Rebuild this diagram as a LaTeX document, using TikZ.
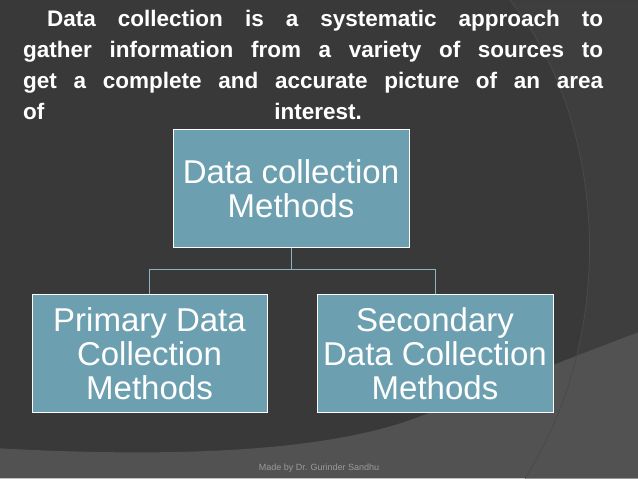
\documentclass[tikz,border=0pt]{standalone}
\usepackage{fontspec}
\setmainfont{Liberation Sans}
\definecolor{bgdark}{HTML}{393939}
\definecolor{bgarc}{HTML}{3E3E3E}
\definecolor{bglight}{HTML}{525252}
\definecolor{arcline}{HTML}{4A4A4A}
\definecolor{boxblue}{HTML}{6CA0B0}
\definecolor{linkblue}{HTML}{8DB4C2}
\definecolor{footgray}{HTML}{9A9A9A}

\begin{document}
\begin{tikzpicture}[x=1pt,y=-1pt,
    box/.style={draw=white, line width=1pt, fill=boxblue, text=white,
      inner sep=0pt, align=center, font=\fontsize{33}{34}\selectfont},
    link/.style={draw=linkblue, line width=0.9pt}]
  % background
  \fill[bgdark] (0,0) rectangle (638,478);
  \fill[bgarc] (510,0) .. controls (600,110) and (625,320) .. (525,478)
    -- (638,478) -- (638,0) -- cycle;
  \fill[bglight] (0,448) .. controls (150,456) and (320,455) .. (420,416)
    .. controls (490,389) and (590,350) .. (638,332) -- (638,478) -- (0,478) -- cycle;
  \draw[arcline, line width=0.8pt] (510,0) .. controls (600,110) and (625,320) .. (525,478);
  \useasboundingbox (0,0) rectangle (638,478);

  \node[anchor=north west, text width=580pt, align=justify, inner sep=0pt,
    text=white, font=\fontsize{22.5}{31}\selectfont\bfseries] (T) at (23,9.8)
    {\noindent\hspace*{24pt}Data collection is a systematic approach to\linebreak
     gather information from a variety of sources to\linebreak
     get a complete and accurate picture of an area\linebreak
     of\hspace*{230pt}interest.};

  \node[box, minimum width=236pt, minimum height=118pt] (M) at (291,188)
    {Data collection\\Methods};
  \node[box, minimum width=235pt, minimum height=118pt] (P) at (149.5,353)
    {Primary Data\\Collection\\Methods};
  \node[box, minimum width=236pt, minimum height=118pt] (S) at (435,353)
    {Secondary\\Data Collection\\Methods};

  \draw[link] (M.south) -- ++(0,22) -| (P.north);
  \draw[link] (M.south) -- ++(0,22) -| (S.north);

  \node[text=footgray, font=\fontsize{9}{10}\selectfont] (F) at (319,468)
    {Made by Dr. Gurinder Sandhu};
\end{tikzpicture}
\end{document}
